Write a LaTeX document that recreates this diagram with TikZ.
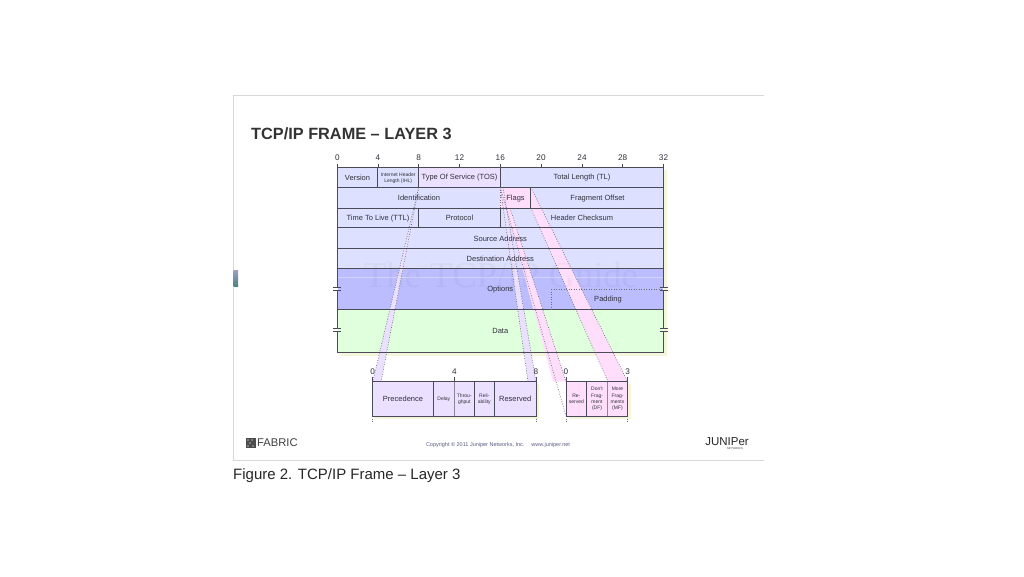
\documentclass[tikz,border=0pt]{standalone}
\usepackage{fontspec}
\setmainfont{Liberation Sans}
\newfontfamily\wmfont{Liberation Serif}
\definecolor{rowblue}{HTML}{DDE0FF}
\definecolor{optblue}{HTML}{BBBDFF}
\definecolor{datagreen}{HTML}{DFFFDD}
\definecolor{lav}{HTML}{EBE0FF}
\definecolor{flagpink}{HTML}{FFDEFC}
\definecolor{paleshadow}{HTML}{F5F5DC}
\definecolor{ink}{HTML}{4A4A58}
\definecolor{txt}{HTML}{30303A}
\definecolor{frameg}{HTML}{D8D8D8}
\tikzset{
  lab/.style={inner sep=0pt,text=txt,align=center,font=\fontsize{7.5}{8.5}\selectfont},
  tiny/.style={lab,font=\fontsize{5}{6}\selectfont},
  small/.style={lab,font=\fontsize{5}{6.2}\selectfont},
  num/.style={lab,font=\fontsize{8.2}{9}\selectfont},
  grid/.style={draw=ink,line width=0.9pt},
  edge/.style={draw=ink!80,line width=0.6pt,dash pattern=on 0.9pt off 1.6pt},
  tick/.style={draw=ink,line width=0.8pt},
}
\begin{document}
\begin{tikzpicture}[x=1pt,y=-1pt]
\useasboundingbox (0,0) rectangle (1024,576);
% slide frame
\draw[frameg,line width=0.9pt] (764,95) -- (233,95) -- (233,460) -- (764,460);
\shade[top color=blue!25!gray!60,bottom color=cyan!30!black!70] (233.5,270) rectangle (238,286);
% titles
\node[anchor=base west,inner sep=0pt,text=black!80,font=\fontsize{16.3}{18}\selectfont\bfseries] (title) at (251,139) {TCP/IP FRAME – LAYER 3};
\node[anchor=base west,inner sep=0pt,text=black!85,font=\fontsize{15}{17}\selectfont] (caption) at (233,479) {Figure 2. TCP/IP Frame – Layer 3};
% shadows
\fill[paleshadow] (339.5,170) rectangle (666.5,355.5);
\fill[paleshadow] (375,384) rectangle (538.5,419);
\fill[paleshadow] (568.5,384) rectangle (630.5,419);
% backgrounds
\fill[rowblue] (337.3,167.3) rectangle (663.5,268.3);
\fill[optblue] (337.3,268.3) rectangle (663.5,309.3);
\fill[datagreen] (337.3,309.3) rectangle (663.5,352.7);
\fill[lav] (418.7,167.3) rectangle (500.3,187.3);
\fill[flagpink] (500.3,187.3) rectangle (530.8,208);
% lower boxes
\fill[lav] (372.7,381.7) rectangle (536,416);
\fill[flagpink] (566,381.7) rectangle (627.7,416);
% bands
\coordinate (tosL) at (418.7,187.3);
\coordinate (tosR) at (500.3,187.3);
\coordinate (tosR2) at (503,187.3);
\coordinate (preL) at (372.7,381.7);
\coordinate (preR) at (381,381.7);
\coordinate (resL) at (528,381.7);
\coordinate (resR) at (536,381.7);
\coordinate (flagL) at (500.3,187.3);
\coordinate (flagL2) at (510,208);
\coordinate (flagR) at (530.8,187.3);
\coordinate (flagB) at (530.8,208);
\coordinate (resvA) at (553,381.7);
\coordinate (resvB) at (566,381.7);
\coordinate (resvC) at (566,416);
\coordinate (mfL) at (608,381.7);
\coordinate (mfR) at (627.7,381.7);
\fill[lav] (tosL) -- (preR) -- (preL) -- cycle;
\fill[lav] (tosR) -- (tosR2) -- (resR) -- (resL) -- cycle;
\fill[flagpink] (flagL) -- (flagL2) -- (resvB) -- (resvA) -- cycle;
\fill[flagpink] (flagB) -- (flagR) -- (mfR) -- (mfL) -- cycle;
% watermark
\node[inner sep=0pt,text=black,opacity=0.035,font=\fontsize{36.5}{40}\selectfont\wmfont] (wm) at (501,275) {The TCP/IP Guide};
\draw[white,opacity=0.35,line width=0.6pt] (337.3,277) -- (663.5,277);
% band edges
\draw[edge] (tosL) -- (preL);
\draw[edge] (tosL) -- (preR);
\draw[edge] (tosR) -- (resL);
\draw[edge] (tosR2) -- (resR);
\draw[edge] (flagL) -- (resvC);
\draw[edge] (flagL2) -- (resvB);
\draw[edge] (flagB) -- (mfL);
\draw[edge] (flagR) -- (mfR);
\foreach \x in {372.7,536,566,627.7} \draw[edge] (\x,416) -- (\x,423);
% main table lines
\draw[grid] (337.3,167.3) rectangle (663.5,352.7);
\foreach \y in {187.3,208,227.7,248.3,268.3,309.3} \draw[grid] (337.3,\y) -- (663.5,\y);
\draw[grid] (377.5,167.3) -- (377.5,187.3);
\draw[grid] (418.7,167.3) -- (418.7,187.3);
\draw[grid] (500.3,167.3) -- (500.3,187.3);
\draw[grid] (530.8,187.3) -- (530.8,208);
\draw[grid] (418.7,208) -- (418.7,227.7);
\draw[grid] (500.3,208) -- (500.3,227.7);
\draw[edge,line width=0.9pt] (500.3,187.3) -- (500.3,208);
\draw[edge] (551,289) -- (663.5,289);
\draw[edge] (551,289) -- (551,309.3);
% top scale
\foreach \b/\x in {0/337.3,4/378,8/418.7,12/459.5,16/500.3,20/541,24/582,28/622.7,32/663.5}{
  \draw[tick] (\x,163.5) -- (\x,167.3);
  \node[num] (n\b) at (\x,157.3) {\b};
}
% break marks
\foreach \x in {337.3,663.5}\foreach \y in {289,330}{
  \fill[white] (\x-0.6,\y-1.2) rectangle (\x+0.6,\y+1.2);
  \draw[ink,line width=0.7pt] (\x-4,\y-1.2) -- (\x+4,\y-1.2);
  \draw[ink,line width=0.7pt] (\x-4,\y+1.2) -- (\x+4,\y+1.2);
}
% lower tables
\draw[grid] (372.7,381.7) rectangle (536,416);
\draw[grid] (433.3,381.7) -- (433.3,416);
\draw[line width=1.4pt,draw=ink!60!lav] (454.3,381.7) -- (454.3,416);
\draw[grid] (474.3,381.7) -- (474.3,416);
\draw[grid] (494.3,381.7) -- (494.3,416);
\draw[grid] (566,381.7) rectangle (627.7,416);
\draw[grid] (586.7,381.7) -- (586.7,416);
\draw[line width=1.2pt,draw=ink!60!flagpink] (607.3,381.7) -- (607.3,416);
\foreach \x/\n/\l in {372.7/a/0,454.3/b/4,536/c/8,566/d/0,627.7/e/3}{
  \draw[tick] (\x,377) -- (\x,381.7);
  \node[num] (low\n) at (\x,371.5) {\l};
}
% labels
\node[lab] (ver) at (357.5,178) {Version};
\node[tiny] (ihl) at (398.2,177.8) {Internet Header\\Length (IHL)};
\node[lab] (tos) at (459.5,178) {Type Of Service (TOS)};
\node[lab] (tl) at (582,178) {Total Length (TL)};
\node[lab] (id) at (419,198.3) {Identification};
\node[lab] (flags) at (515.5,198.5) {Flags};
\node[lab] (frag) at (597.5,198.5) {Fragment Offset};
\node[lab] (ttl) at (378,218.3) {Time To Live (TTL)};
\node[lab] (proto) at (459.5,218.3) {Protocol};
\node[lab] (chk) at (582,218.3) {Header Checksum};
\node[lab] (src) at (500.3,238.7) {Source Address};
\node[lab] (dst) at (500.3,259) {Destination Address};
\node[lab] (opt) at (500.3,289.7) {Options};
\node[lab] (pad) at (608,299.3) {Padding};
\node[lab] (data) at (500.3,331.3) {Data};
\node[lab] (prec) at (403,399.3) {Precedence};
\node[small] (delay) at (443.8,399) {Delay};
\node[small] (thr) at (464.3,399) {Throu-\\ghput};
\node[small] (rel) at (484.3,399) {Reli-\\ability};
\node[lab] (rsv) at (515.2,399.3) {Reserved};
\node[small] (rs2) at (576.3,399) {Re-\\served};
\node[small] (df) at (597,399) {Don't\\Frag-\\ment\\(DF)};
\node[small] (mf) at (617.5,399) {More\\Frag-\\ments\\(MF)};
% footer
\fill[black!70] (246,438) rectangle (256,448);
\foreach \p in {(248,440),(252,440),(250,443),(248,446),(253,446)} \fill[white!70!black] \p circle (0.9);
\node[anchor=west,inner sep=0pt,text=black!75,font=\fontsize{11.2}{12}\selectfont] (fab) at (257,443) {FABRIC};
\node[inner sep=0pt,text=black!45!blue!30!gray,font=\fontsize{5.5}{6}\selectfont] (copy) at (498,445.5) {Copyright © 2011 Juniper Networks, Inc.\quad\ www.juniper.net};
\node[inner sep=0pt,text=black!85,font=\fontsize{11.5}{12}\selectfont] (jun) at (727,442) {JUNIPer};
\node[inner sep=0pt,text=black!70,font=\fontsize{2.8}{3}\selectfont] (net) at (735,449) {NETWORKS};
\end{tikzpicture}
\end{document}
